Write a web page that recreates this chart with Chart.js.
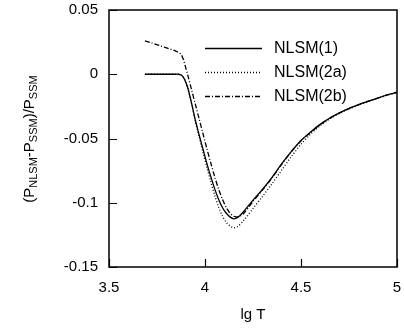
<!DOCTYPE html>
<html>
<head>
<meta charset="utf-8">
<script src="https://cdn.jsdelivr.net/npm/chart.js@4.4.1/dist/chart.umd.min.js"></script>
<style>
  html, body { margin: 0; padding: 0; background: #fff; }
  #c { display: block; }
</style>
</head>
<body>
<canvas id="c" width="404" height="329"></canvas>
<script>
// ---- data ----
const lgT = [3.687, 3.72, 3.76, 3.80, 3.84, 3.86, 3.875, 3.885, 3.895, 3.91,
             3.93, 3.95, 3.97, 3.99, 4.01, 4.03, 4.05, 4.07, 4.09, 4.11,
             4.13, 4.15, 4.17, 4.20, 4.25, 4.30, 4.35, 4.40, 4.45, 4.50,
             4.55, 4.60, 4.65, 4.70, 4.75, 4.80, 4.85, 4.90, 4.95, 5.00];
const nlsm1 = [0, 0, 0, 0, 0, 0, -0.0006, -0.0018, -0.0045, -0.0105,
               -0.0225, -0.036, -0.0475, -0.0585, -0.0695, -0.0795, -0.089, -0.097, -0.1035, -0.108,
               -0.111, -0.1125, -0.1115, -0.107, -0.098, -0.0895, -0.080, -0.0695, -0.060, -0.0515,
               -0.045, -0.039, -0.034, -0.030, -0.0265, -0.0237, -0.021, -0.0185, -0.016, -0.014];
const nlsm2a = [0, 0, 0, 0, 0, 0, -0.0006, -0.0018, -0.0045, -0.0105,
                -0.023, -0.0365, -0.049, -0.061, -0.0725, -0.0835, -0.094, -0.103, -0.110, -0.115,
                -0.118, -0.1195, -0.1185, -0.114, -0.1045, -0.095, -0.085, -0.0745, -0.064, -0.0545,
                -0.0465, -0.040, -0.0348, -0.0305, -0.027, -0.024, -0.0212, -0.0187, -0.0162, -0.0142];
const nlsm2b = [0.026, 0.0245, 0.0225, 0.0205, 0.0185, 0.017, 0.0155, 0.0125, 0.0075, -0.0005,
                -0.012, -0.0235, -0.035, -0.0465, -0.058, -0.069, -0.0795, -0.089, -0.097, -0.1035,
                -0.108, -0.1105, -0.111, -0.1085, -0.099, -0.090, -0.0805, -0.070, -0.0603, -0.0518,
                -0.0452, -0.0392, -0.0342, -0.0302, -0.0267, -0.0238, -0.0211, -0.0186, -0.0161, -0.0141];
const seriesNames = ["NLSM(1)", "NLSM(2a)", "NLSM(2b)"];
const xTicks = [3.5, 4, 4.5, 5];
const xTickLabels = ["3.5", "4", "4.5", "5"];
const yTicks = [0.05, 0, -0.05, -0.1, -0.15];
const yTickLabels = ["0.05", "0", "-0.05", "-0.1", "-0.15"];

const FONT = '"Liberation Sans", Arial, sans-serif';

function pts(ys) { return lgT.map((x, i) => ({ x: x, y: ys[i] })); }

const frame = {
  id: 'frame',
  afterDraw(chart) {
    const ctx = chart.ctx, a = chart.chartArea;
    const xs = chart.scales.x, ys = chart.scales.y;
    ctx.save();
    ctx.strokeStyle = '#000';
    ctx.lineWidth = 1.5;
    ctx.strokeRect(a.left, a.top, a.right - a.left, a.bottom - a.top);
    ctx.lineWidth = 1.2;
    ctx.beginPath();
    xTicks.forEach(v => { const p = Math.round(xs.getPixelForValue(v)) + 0.5; ctx.moveTo(p, a.bottom); ctx.lineTo(p, a.bottom - 8); });
    yTicks.forEach(v => { const p = Math.round(ys.getPixelForValue(v)) + 0.5; ctx.moveTo(a.left, p); ctx.lineTo(a.left + 8, p); });
    ctx.stroke();

    // legend
    const rows = [48, 72, 96];
    chart.data.datasets.forEach((ds, i) => {
      ctx.beginPath();
      ctx.setLineDash(ds.borderDash || []);
      ctx.lineWidth = ds.borderWidth;
      ctx.moveTo(205, rows[i] + 0.5);
      ctx.lineTo(262, rows[i] + 0.5);
      ctx.stroke();
      ctx.setLineDash([]);
      ctx.fillStyle = '#000';
      ctx.font = '16px ' + FONT;
      ctx.textBaseline = 'middle';
      ctx.textAlign = 'left';
      ctx.fillText(ds.label, 274, rows[i] + 1);
    });

    // x title
    ctx.font = '15px ' + FONT;
    ctx.textAlign = 'center';
    ctx.textBaseline = 'alphabetic';
    ctx.fillText('lg T', (a.left + a.right) / 2, 319);

    // y title with subscripts
    const parts = [['(P', 0], ['NLSM', 1], ['-P', 0], ['SSM', 1], [')/P', 0], ['SSM', 1]];
    const big = '15px ' + FONT, small = '11px ' + FONT;
    let total = 0;
    parts.forEach(p => { ctx.font = p[1] ? small : big; total += ctx.measureText(p[0]).width; });
    ctx.translate(34, 139);
    ctx.rotate(-Math.PI / 2);
    let x = -total / 2;
    ctx.textAlign = 'left';
    parts.forEach(p => {
      ctx.font = p[1] ? small : big;
      ctx.fillText(p[0], x, p[1] ? 3 : 0);
      x += ctx.measureText(p[0]).width;
    });
    ctx.restore();
  }
};

new Chart(document.getElementById('c'), {
  type: 'scatter',
  data: {
    datasets: [
      { label: seriesNames[0], data: pts(nlsm1), showLine: true, borderColor: '#000', borderWidth: 1.3, pointRadius: 0, borderDash: [], tension: 0.3 },
      { label: seriesNames[1], data: pts(nlsm2a), showLine: true, borderColor: '#000', borderWidth: 1.3, pointRadius: 0, borderDash: [1, 2], tension: 0.3 },
      { label: seriesNames[2], data: pts(nlsm2b), showLine: true, borderColor: '#000', borderWidth: 1.3, pointRadius: 0, borderDash: [5, 2, 1, 2], tension: 0.3 }
    ]
  },
  options: {
    responsive: false,
    animation: false,
    devicePixelRatio: 1,
    layout: { padding: { top: 10, right: 7, left: 0, bottom: 0 } },
    plugins: { legend: { display: false }, tooltip: { enabled: false } },
    scales: {
      x: {
        type: 'linear', min: 3.5, max: 5, position: 'bottom',
        grid: { display: false, drawTicks: false },
        border: { display: false },
        afterBuildTicks: s => { s.ticks = xTicks.map(v => ({ value: v })); },
        afterFit: s => { s.height = 62; s.paddingLeft = 0; s.paddingRight = 0; },
        ticks: { font: { size: 15, family: FONT }, color: '#000', padding: 12, maxRotation: 0,
                 callback: (v) => { const i = xTicks.indexOf(v); return i >= 0 ? xTickLabels[i] : ''; } }
      },
      y: {
        type: 'linear', min: -0.15, max: 0.05,
        grid: { display: false, drawTicks: false },
        border: { display: false },
        afterBuildTicks: s => { s.ticks = yTicks.map(v => ({ value: v })); },
        afterFit: s => { s.width = 109; s.paddingTop = 0; s.paddingBottom = 0; },
        ticks: { font: { size: 15, family: FONT }, color: '#000', padding: 11,
                 callback: (v) => { const i = yTicks.indexOf(v); return i >= 0 ? yTickLabels[i] : ''; } }
      }
    }
  },
  plugins: [frame]
});
</script>
</body>
</html>
